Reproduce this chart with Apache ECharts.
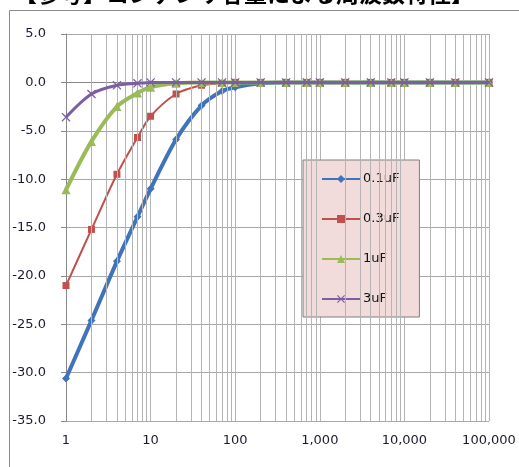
<!DOCTYPE html>
<html>
<head>
<meta charset="utf-8">
<script src="https://cdn.jsdelivr.net/npm/echarts@6/dist/echarts.min.js"></script>
<style>
html,body{margin:0;padding:0;background:#fff;}
#c{width:519px;height:467px;}
</style>
</head>
<body>
<div id="c"></div>
<script>
const titleText = '【参考】コンデンサ容量による周波数特性】';
const freqs = [1, 2, 4, 7, 10, 20, 40, 70, 100, 200, 400, 700, 1000, 2000, 4000, 7000, 10000, 20000, 40000, 100000];
const seriesNames = ['0.1uF', '0.3uF', '1uF', '3uF'];
const v01uF = [-30.6, -24.6, -18.5, -13.9, -11.0, -5.9, -2.4, -0.9, -0.5, -0.1, 0.0, 0.0, 0.0, 0.0, 0.0, 0.0, 0.0, 0.0, 0.0, 0.0];
const v03uF = [-21.0, -15.2, -9.5, -5.7, -3.5, -1.2, -0.3, -0.1, 0.0, 0.0, 0.0, 0.0, 0.0, 0.0, 0.0, 0.0, 0.0, 0.0, 0.0, 0.0];
const v1uF  = [-11.1, -6.1, -2.5, -1.1, -0.5, -0.1, 0.0, 0.0, 0.0, 0.0, 0.0, 0.0, 0.0, 0.0, 0.0, 0.0, 0.0, 0.0, 0.0, 0.0];
const v3uF  = [-3.6, -1.2, -0.3, -0.1, 0.0, 0.0, 0.0, 0.0, 0.0, 0.0, 0.0, 0.0, 0.0, 0.0, 0.0, 0.0, 0.0, 0.0, 0.0, 0.0];
const yMin = -35, yMax = 5, yStep = 5;
const xMin = 1, xMax = 100000;
const minorGridX = [];
for (let d = 1; d < xMax; d *= 10) { for (let k = 2; k <= 9; k++) minorGridX.push(d * k); }

const colors = ['#3f73bb', '#c0504d', '#9bbb59', '#7c5ea3'];
const widths = [4, 2, 4, 3];
const symbols = ['diamond', 'rect', 'triangle', 'path://M0,1L1,0L5,4L9,0L10,1L6,5L10,9L9,10L5,6L1,10L0,9L4,5Z'];
const symSizes = [8, 7, 9, 9];
const allValues = [v01uF, v03uF, v1uF, v3uF];

const FONT = 'DejaVu Sans';
const series = seriesNames.map((name, i) => ({
  name: name,
  type: 'line',
  smooth: 0.3,
  data: freqs.map((f, j) => [f, allValues[i][j]]),
  symbol: symbols[i],
  symbolSize: symSizes[i],
  showSymbol: true,
  z: 3 + i,
  lineStyle: { color: colors[i], width: widths[i] },
  itemStyle: { color: colors[i] },
  animation: false
}));
series.push({
  name: '_grid',
  type: 'line',
  data: [],
  silent: true,
  z: 1,
  markLine: {
    silent: true,
    symbol: ['none', 'none'],
    label: { show: false },
    lineStyle: { color: '#b4b4b4', width: 1, type: 'solid' },
    animation: false,
    data: minorGridX.map(v => ({ xAxis: v }))
  }
});

const chart = echarts.init(document.getElementById('c'), null, { renderer: 'canvas' });
chart.setOption({
  animation: false,
  backgroundColor: '#fff',
  graphic: [{
    type: 'rect',
    shape: { x: 9.5, y: 10.5, width: 520, height: 470 },
    style: { fill: 'none', stroke: '#8a8a8a', lineWidth: 1 },
    silent: true, z: 0
  }, {
    type: 'text',
    x: 14,
    y: -18,
    silent: true,
    z: 10,
    style: {
      text: titleText,
      fill: '#000',
      font: 'bold 23px "Noto Sans CJK JP"',
      textVerticalAlign: 'top'
    }
  }],
  grid: { left: 66, right: 30, top: 34, bottom: 46 },
  legend: {
    data: seriesNames,
    orient: 'vertical',
    left: 303,
    top: 160,
    backgroundColor: '#f2dcdb',
    borderColor: '#7f7f7f',
    borderWidth: 1,
    borderRadius: 0,
    padding: [12, 20, 11, 18],
    itemGap: 26,
    itemWidth: 38,
    itemHeight: 10,
    textStyle: { fontFamily: FONT, fontSize: 13, color: '#111', padding: [0, 0, 0, -2], lineHeight: 14 }
  },
  xAxis: {
    type: 'log',
    logBase: 10,
    min: xMin,
    max: xMax,
    axisLine: { show: true, lineStyle: { color: '#888' } },
    axisTick: { show: true, length: 5, lineStyle: { color: '#888' } },
    splitLine: { show: true, lineStyle: { color: '#b4b4b4', width: 1 } },
    axisLabel: {
      margin: 13,
      fontFamily: FONT, fontSize: 13, color: '#1a1a2e',
      formatter: v => Number(v).toLocaleString('en-US')
    }
  },
  yAxis: {
    type: 'value',
    min: yMin,
    max: yMax,
    interval: yStep,
    axisLine: { show: true, lineStyle: { color: '#888' } },
    axisTick: { show: true, length: 5, lineStyle: { color: '#888' } },
    splitLine: { show: true, lineStyle: { color: '#a8a8a8', width: 1 } },
    axisLabel: {
      margin: 20,
      fontFamily: FONT, fontSize: 13, color: '#1a1a2e',
      formatter: v => Number(v).toFixed(1)
    }
  },
  series: series
});
</script>
</body>
</html>
